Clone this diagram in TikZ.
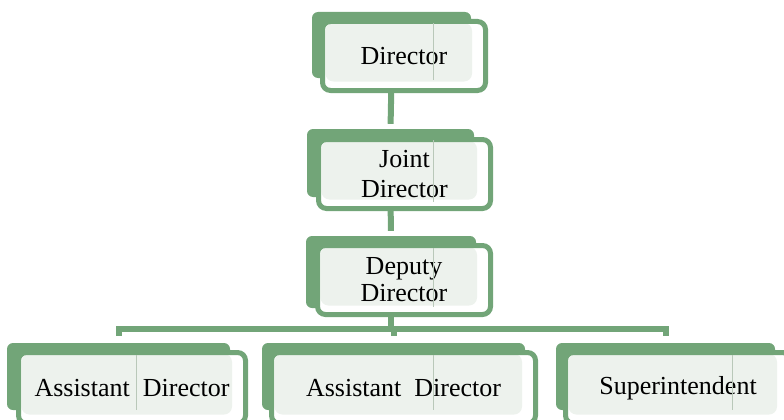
\documentclass[tikz,border=0pt]{standalone}
\usepackage{fontspec}
\setmainfont{Liberation Serif}
\definecolor{gr}{RGB}{114,165,120}
\definecolor{tex}{RGB}{237,242,237}
\definecolor{vl}{RGB}{185,200,185}
\begin{document}
\begin{tikzpicture}[x=1pt,y=-1pt,
  backbox/.style={rectangle, fill=gr, draw=none, rounded corners=6pt, inner sep=0pt},
  frontbox/.style={rectangle, fill=white, draw=gr, line width=5pt, rounded corners=8pt,
     inner sep=0pt, align=center,
     font=\fontsize{26}{28}\selectfont,
     path picture={\fill[tex] ([shift={(3pt,-1.5pt)}]path picture bounding box.north west)
        rectangle ([shift={(-13.5pt,9pt)}]path picture bounding box.south east);}},
  conn/.style={draw=gr, line width=6pt},
  vline/.style={draw=vl, line width=0.6pt}]
\useasboundingbox (0,0) rectangle (784,420);
\clip (0,0) rectangle (784,420);
% back boxes
\node[backbox, minimum width=159pt, minimum height=66pt] (dirB) at (391.5,45) {};
\node[backbox, minimum width=167pt, minimum height=68pt] (jntB) at (390.5,163) {};
\node[backbox, minimum width=170pt, minimum height=72pt] (depB) at (391,272) {};
\node[backbox, minimum width=223pt, minimum height=67pt] (a1B) at (118.5,376.5) {};
\node[backbox, minimum width=263pt, minimum height=67pt] (a2B) at (393.5,376.5) {};
\node[backbox, minimum width=219pt, minimum height=67pt] (a3B) at (665.5,376.5) {};
% connectors
\coordinate (bus) at (391,329);
\coordinate (d1) at ([yshift=7pt]a1B.north);
\coordinate (d2) at ([yshift=7pt]a2B.north);
\coordinate (d3) at ([yshift=7pt]a3B.north);
\draw[conn, shorten >=5pt] (dirB.south) -- (jntB.north);
\draw[conn, shorten >=5pt] (jntB.south) -- (depB.north);
\draw[conn] (depB.south) -- (bus);
\draw[conn, line join=miter] (d1) -- (d1 |- bus) -- (d3 |- bus) -- (d3);
\draw[conn] (d2 |- bus) -- (d2);
% front boxes
\node[frontbox, minimum width=163pt, minimum height=69pt] (dirF) at (404,56) {Director};
\node[frontbox, minimum width=172pt, minimum height=69pt, font=\fontsize{26}{29.5}\selectfont] (jntF) at (404.5,174) {Joint\\Director};
\node[frontbox, minimum width=173pt, minimum height=69pt, font=\fontsize{26}{27}\selectfont] (depF) at (404,280) {Deputy\\Director};
\node[frontbox, minimum width=227pt, minimum height=71pt] (a1F) at (132,388) {Assistant\ \ Director};
\node[frontbox, minimum width=264pt, minimum height=71pt] (a2F) at (403.5,388) {Assistant\ \ Director};
\node[frontbox, minimum width=225pt, minimum height=71pt] (a3F) at (678,388) {Superintendent};
% faint guide lines
\draw[vline] (433,23) -- (433,80);
\draw[vline] (433,140) -- (433,202);
\draw[vline] (433,248) -- (433,307);
\draw[vline] (136,355) -- (136,410);
\draw[vline] (433,355) -- (433,410);
\draw[vline] (732,355) -- (732,410);
\end{tikzpicture}
\end{document}
